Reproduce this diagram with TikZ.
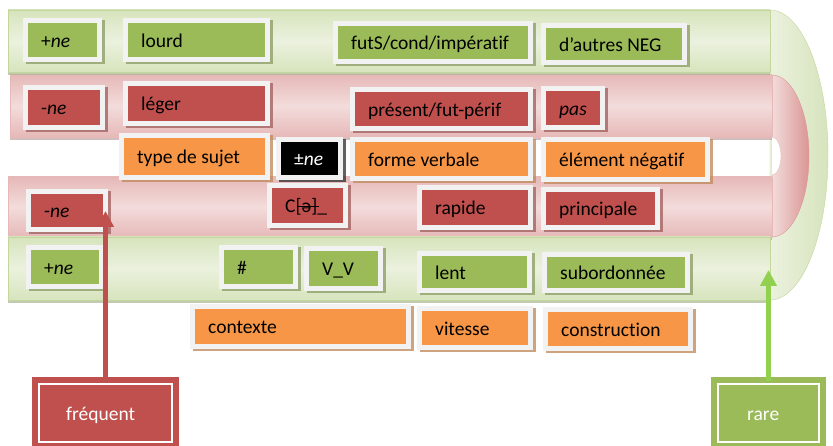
\documentclass[tikz,border=0pt]{standalone}
\usepackage{fontspec}
\setmainfont{Carlito}[Ligatures=NoCommon]
\usepackage{tikz}
\usetikzlibrary{shadows}
\usetikzlibrary{arrows.meta}

\definecolor{cvert}{HTML}{9BBB59}
\definecolor{crouge}{HTML}{C0504D}
\definecolor{corange}{HTML}{F79646}
\definecolor{cadre}{HTML}{F2F2F2}
\definecolor{vertclair}{HTML}{EBF1DE}
\definecolor{vertmoyen}{HTML}{D7E4BD}
\definecolor{vertfonce}{HTML}{C3D69B}
\definecolor{roseclair}{HTML}{F2DCDB}
\definecolor{rosemoyen}{HTML}{E6B9B8}
\definecolor{rosefonce}{HTML}{D99694}
\definecolor{flvert}{HTML}{92D050}

\newcommand\barre[1]{\sbox0{#1}\rlap{\hspace{1.5pt}\rule[0.31em]{\wd0}{1.2pt}}\usebox0}

\begin{document}
\begin{tikzpicture}[x=1pt, y=-1pt,
  every node/.style={font=\fontsize{19.5}{23}\selectfont},
  box/.style={fill=#1, draw=cadre, line width=5pt, inner sep=0pt,
    drop shadow={shadow xshift=2.5pt, shadow yshift=-2.5pt, fill=#1!55!gray, draw=#1!55!gray, line width=5pt, opacity=.8}},
  gbox/.style={box=cvert}, rbox/.style={box=crouge}, obox/.style={box=corange}, nbox/.style={box=black},
  sz/.style 2 args={minimum width=#1pt, minimum height=#2pt},
  txt/.style={anchor=base west, inner sep=0pt, xshift=18pt, yshift=-7.5pt},
  tx/.style={label={[txt]west:#1}},
  bande/.style={draw=#1, drop shadow={shadow xshift=0pt, shadow yshift=-3pt, fill=#1!60!gray, opacity=.7}},
  etiq/.style={fill=#1, draw=#1, double=white, double distance=2pt, line width=6pt, minimum height=58pt},
  fleche/.style={draw=#1, line width=5pt, -{Triangle[width=16pt,length=16pt]}}]
  \useasboundingbox (0,0) rectangle (833,446);

  % le tube
  \draw[vertfonce, left color=vertclair, right color=vertmoyen] (770,10) arc[start angle=-90, end angle=90, x radius=58, y radius=145] -- cycle;
  \draw[rosefonce, left color=roseclair, right color=rosefonce] (772,75) arc[start angle=-90, end angle=90, x radius=37, y radius=81] -- cycle;
  \draw[bande=rosemoyen, top color=rosemoyen, bottom color=rosemoyen, middle color=roseclair] (10,75) rectangle (772,137);
  \draw[bande=rosemoyen, top color=rosemoyen, bottom color=rosemoyen, middle color=roseclair] (8,177) rectangle (772,237);
  \draw[bande=vertfonce, top color=vertmoyen, bottom color=vertmoyen, middle color=vertclair] (8,10) rectangle (770,72);
  \draw[bande=vertfonce, top color=vertmoyen, bottom color=vertmoyen, middle color=vertclair] (8,237) rectangle (770,300);
  \draw[rosemoyen, fill=white] (772,137) arc[start angle=-90, end angle=90, x radius=9, y radius=19];

  \node[gbox, sz={74}{39}, tx=+\textit{ne}] (plusneA) at (62.5,40) {};
  \node[gbox, sz={142}{39}, tx=lourd] (lourd) at (196.5,40) {};
  \node[gbox, sz={195}{38}, tx=futS/cond/impératif] (futur) at (433,42.5) {};
  \node[gbox, sz={141}{37}, tx=d’autres NEG] (autres) at (614,44) {};

  \node[rbox, sz={77}{40}, tx=-\textit{ne}] (moinsneA) at (64,107.5) {};
  \node[rbox, sz={142}{40}, tx=léger] (leger) at (196.5,103.5) {};
  \node[rbox, sz={178}{39}, tx=présent/fut-périf] (present) at (441.5,109) {};
  \node[rbox, sz={59}{39}, tx=\textit{pas}] (pas) at (573,108) {};

  \node[obox, sz={146}{42}, tx=type de sujet] (sujet) at (194.5,156.5) {};
  \node[nbox, sz={62}{38}, label={[txt,text=white]west:±\textit{ne}}] (plusmoins) at (309.5,158.5) {};
  \node[obox, sz={178}{39}, tx=forme verbale] (forme) at (441.5,159) {};
  \node[obox, sz={164}{40}, tx=élément négatif] (negatif) at (625.5,159.5) {};

  \node[rbox, sz={77}{38}, tx=-\textit{ne}] (moinsneB) at (67,210.5) {};
  \node[rbox, sz={76}{40}, tx=C\barre{[ə]}\_] (schwa) at (307.5,205.5) {};
  \node[rbox, sz={111}{40}, tx=rapide] (rapide) at (475,207.5) {};
  \node[rbox, sz={114}{38}, tx=principale] (principale) at (600.5,208.5) {};

  \node[gbox, sz={73}{39}, tx=+\textit{ne}] (plusneB) at (65,267) {};
  \node[gbox, sz={74}{39}, tx=\#] (diese) at (258.5,267) {};
  \node[gbox, sz={74}{40}, tx=V\_V] (vv) at (343.5,268.5) {};
  \node[gbox, sz={110}{37}, tx=lent] (lent) at (474.5,272) {};
  \node[gbox, sz={143}{36}, tx=subordonnée] (subord) at (616,272.5) {};

  \node[obox, sz={216}{40}, tx=contexte] (contexte) at (300.5,326.5) {};
  \node[obox, sz={111}{39}, tx=vitesse] (vitesse) at (475,328) {};
  \node[obox, sz={145}{39}, tx=construction] (construction) at (618,329) {};

  \node[etiq=crouge, minimum width=133pt, label={[txt,xshift=12pt,text=white]west:fréquent}] (frequent) at (105.5,413) {};
  \node[etiq=cvert, minimum width=101pt, label={[txt,xshift=14pt,text=white]west:rare}] (rare) at (768.5,413) {};

  \coordinate (pointeA) at (105.5,211);
  \coordinate (pointeB) at (768.5,270);
  \draw[fleche=crouge] (frequent) -- (pointeA);
  \draw[fleche=flvert] (rare) -- (pointeB);
\end{tikzpicture}
\end{document}
